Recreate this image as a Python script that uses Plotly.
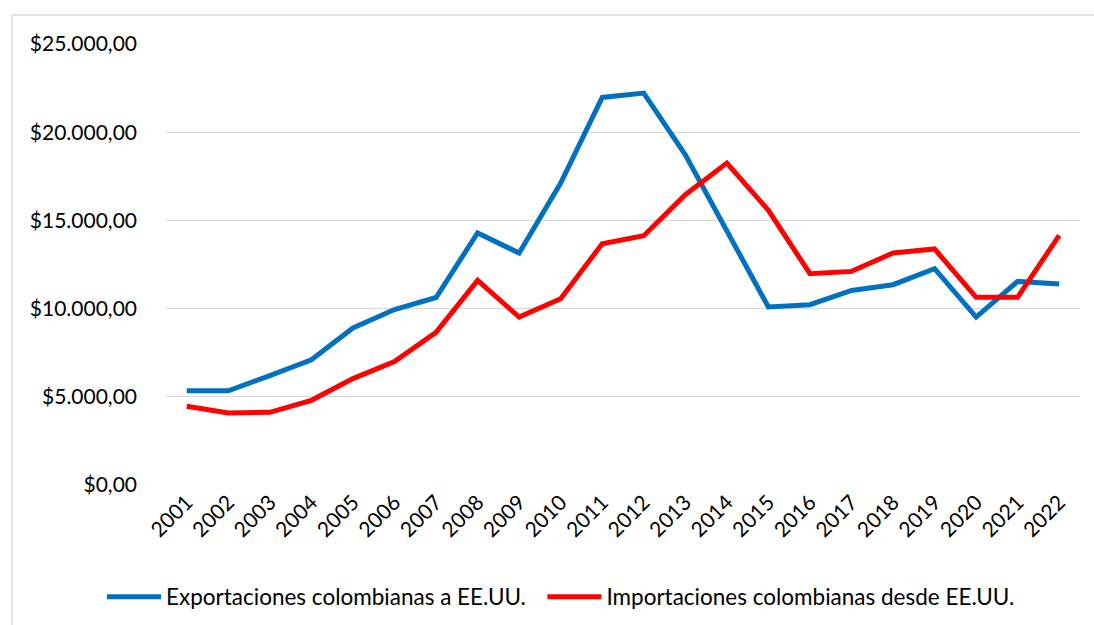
import plotly.graph_objects as go

years = [str(y) for y in range(2001, 2023)]
exportaciones = [5350, 5340, 6200, 7100, 8900, 9950, 10630, 14290, 13150, 17120,
                 21970, 22220, 18720, 14420, 10090, 10220, 11030, 11355, 12260, 9520,
                 11540, 11390]
importaciones = [4460, 4080, 4120, 4800, 6030, 7000, 8650, 11600, 9520, 10560,
                 13680, 14130, 16460, 18250, 15570, 11980, 12110, 13150, 13380, 10640,
                 10640, 14150]
y_ticks = [0, 5000, 10000, 15000, 20000, 25000]
series_names = ["Exportaciones colombianas a EE.UU.",
                "Importaciones colombianas desde EE.UU."]


def fmt(v):
    s = f"{v:,.2f}"  # 25,000.00
    s = s.replace(",", "X").replace(".", ",").replace("X", ".")
    return "$" + s


y_ticktext = [fmt(v) for v in y_ticks]

FONT = "Lato, Carlito, Calibri, sans-serif"
FS = 21

fig = go.Figure()
fig.add_trace(go.Scatter(x=years, y=exportaciones, mode="lines",
                         name=series_names[0] + "\u00a0\u00a0",
                         line=dict(color="#0070C0", width=5)))
fig.add_trace(go.Scatter(x=years, y=importaciones, mode="lines",
                         name=series_names[1],
                         line=dict(color="#FF0000", width=5)))

L, R, T, B = 166, 14, 44, 140
W, H = 1094, 625
pw, ph = W - L - R, H - T - B

fig.update_layout(
    width=W, height=H,
    margin=dict(l=L, r=R, t=T, b=B, pad=0, autoexpand=False),
    paper_bgcolor="white", plot_bgcolor="white",
    font=dict(family=FONT, size=FS, color="#000000"),
    showlegend=True,
    legend=dict(orientation="h", x=(561 - L) / pw, xanchor="center", y=(485 - 597) / ph,
                yanchor="middle", itemwidth=54, font=dict(size=22.5),
                traceorder="normal", tracegroupgap=0, itemsizing="constant"),
    xaxis=dict(type="category", tickangle=-45, showgrid=False, zeroline=False,
               showline=False, ticks="", tickfont=dict(size=FS),
               range=[-0.5, len(years) - 0.5]),
    yaxis=dict(range=[0, 25000], tickvals=y_ticks, ticktext=y_ticktext,
               showgrid=True, gridcolor="#D9D9D9", gridwidth=1.3, zeroline=False,
               showline=False, ticks="", tickfont=dict(size=FS), ticklabelstandoff=28),
    shapes=[dict(type="rect", xref="paper", yref="paper",
                 x0=(12 - L) / pw, x1=(W + 20 - L) / pw,
                 y0=(485 - (H + 20)) / ph, y1=1 + (T - 15) / ph,
                 line=dict(color="#D9D9D9", width=1.5), layer="below")],
)

fig.write_html("out.html",
               config={"displayModeBar": False},
               post_script="document.body.style.margin='0px';"
                           "document.body.style.overflow='hidden';")
